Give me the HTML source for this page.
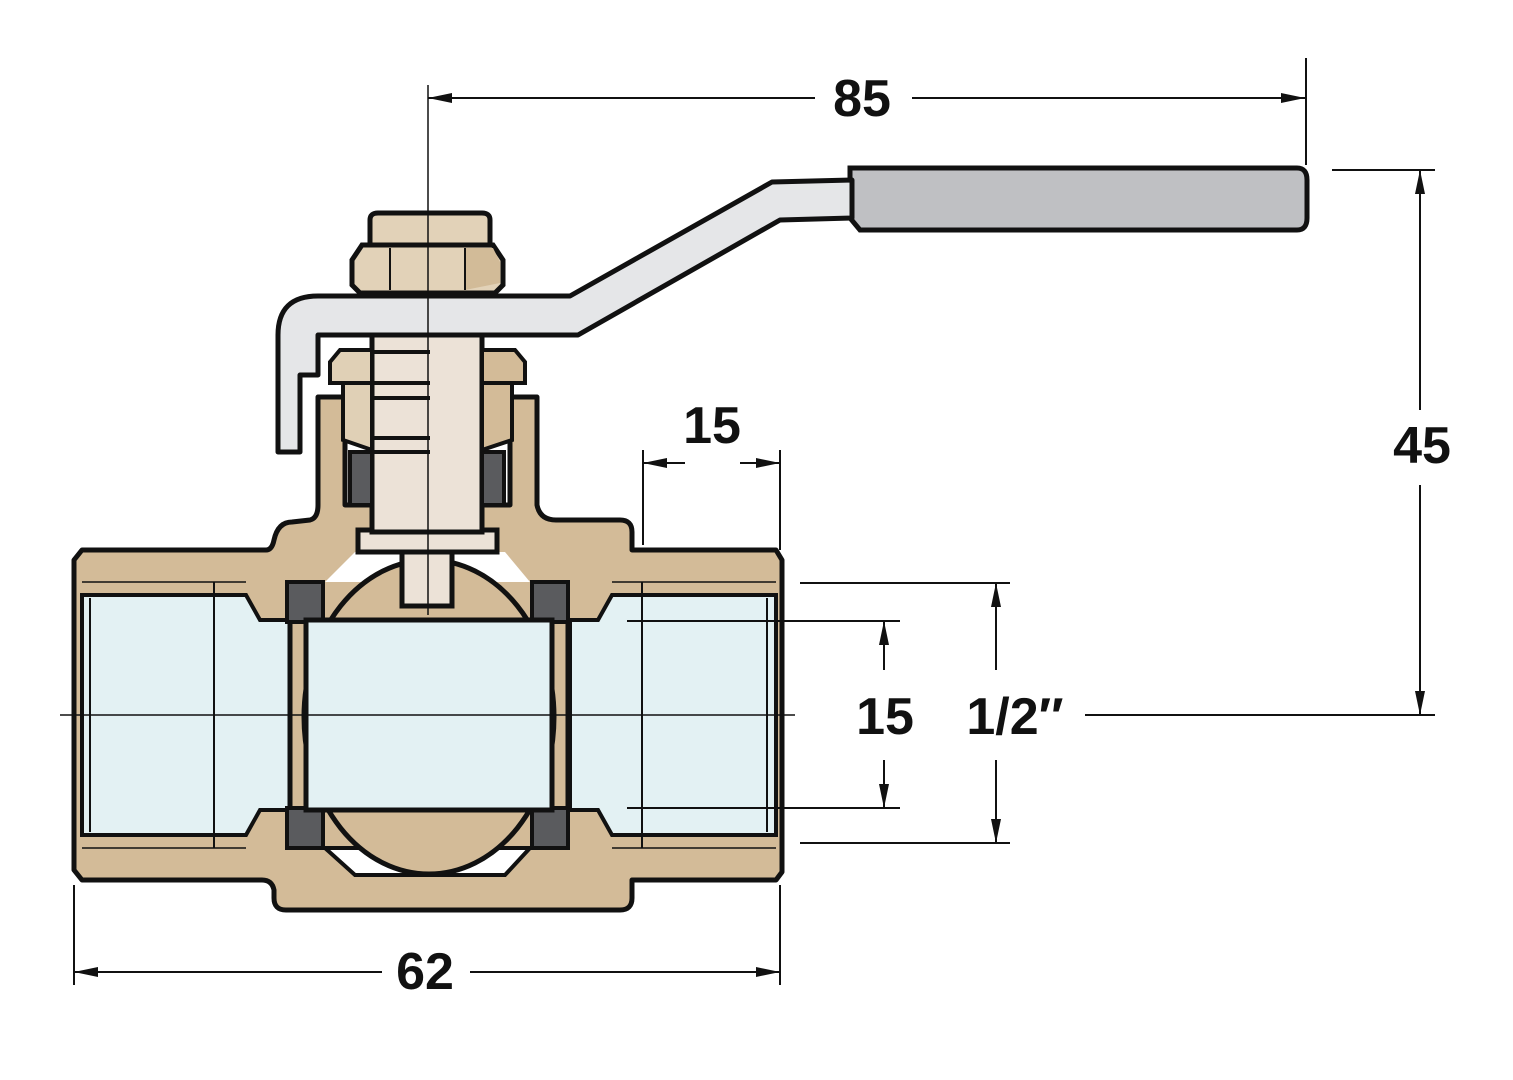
<!DOCTYPE html>
<html><head><meta charset="utf-8"><style>
html,body{margin:0;padding:0;background:#fff;}
svg{display:block;}
text{font-family:"Liberation Sans Narrow","Liberation Sans",sans-serif;font-size:52px;font-weight:bold;fill:#111;text-anchor:middle;}
</style></head><body>
<svg width="1513" height="1080" viewBox="0 0 1513 1080" xmlns="http://www.w3.org/2000/svg">
<defs>
<marker id="b" viewBox="0 0 24 10" refX="24" refY="5" markerWidth="24" markerHeight="10" markerUnits="userSpaceOnUse" orient="auto-start-reverse"><path d="M0,0 L24,5 L0,10 z" fill="#111"/></marker>
</defs>

<path d="M850,168 L1297,168 Q1307,168 1307,180 L1307,218 Q1307,230 1297,230 L860,230 L850,218 Z" fill="#bfc0c3" stroke="#111" stroke-width="5"/>
<path d="M278,452 L278,335 Q278,296 318,296 L570,296 L772,182 L852,180 L852,218 L780,220 L578,335 L318,335 L318,375 L300,375 L300,452 Z" fill="#e5e6e8" stroke="#111" stroke-width="5" stroke-linejoin="round"/>

<path d="M82,550 L266,550 Q272,550 274,540 Q278,522 292,522 L310,520 Q318,518 318,505 L318,397 L345,397 L345,505 L510,505 L510,397 L537,397 L537,505 Q540,520 556,520 L620,520 Q632,520 632,532 L632,550 L776,550 L782,560 L782,872 L776,880 L632,880 L632,898 Q632,910 620,910 L286,910 Q274,910 274,898 L274,890 Q272,880 262,880 L82,880 L74,870 L74,560 Z" fill="#d3bb98" stroke="#111" stroke-width="5" stroke-linejoin="round"/>

<path d="M82,595 L246,595 L260,620 L290,620 L290,810 L260,810 L246,835 L82,835 Z" fill="#e3f1f3" stroke="#111" stroke-width="4"/>
<path d="M776,595 L612,595 L598,620 L570,620 L570,810 L598,810 L612,835 L776,835 Z" fill="#e3f1f3" stroke="#111" stroke-width="4"/>
<line x1="90" y1="598" x2="90" y2="832" stroke="#111" stroke-width="2"/>
<line x1="214" y1="582" x2="214" y2="848" stroke="#111" stroke-width="2"/>
<line x1="642" y1="582" x2="642" y2="848" stroke="#111" stroke-width="2"/>
<line x1="767" y1="598" x2="767" y2="832" stroke="#111" stroke-width="2"/>
<line x1="82" y1="582" x2="246" y2="582" stroke="#111" stroke-width="1.5"/>
<line x1="82" y1="848" x2="246" y2="848" stroke="#111" stroke-width="1.5"/>
<line x1="612" y1="582" x2="776" y2="582" stroke="#111" stroke-width="1.5"/>
<line x1="612" y1="848" x2="776" y2="848" stroke="#111" stroke-width="1.5"/>

<path d="M355,552 L505,552 L530,582 L325,582 Z" fill="#fff"/>
<path d="M325,848 L530,848 L505,875 L355,875 Z" fill="#fff" stroke="#111" stroke-width="4"/>

<rect x="287" y="582" width="36" height="40" fill="#5a5b5e" stroke="#111" stroke-width="4"/>
<rect x="287" y="808" width="36" height="40" fill="#5a5b5e" stroke="#111" stroke-width="4"/>
<rect x="532" y="582" width="36" height="40" fill="#5a5b5e" stroke="#111" stroke-width="4"/>
<rect x="532" y="808" width="36" height="40" fill="#5a5b5e" stroke="#111" stroke-width="4"/>
<line x1="290" y1="620" x2="290" y2="810" stroke="#111" stroke-width="5"/>
<line x1="568" y1="620" x2="568" y2="810" stroke="#111" stroke-width="5"/>

<ellipse cx="429" cy="717" rx="125" ry="157" fill="#d3bb98" stroke="#111" stroke-width="5"/>
<rect x="306" y="620" width="246" height="190" fill="#e3f1f3" stroke="#111" stroke-width="5"/>

<rect x="402" y="548" width="50" height="58" fill="#ece2d7" stroke="#111" stroke-width="5"/>
<rect x="358" y="530" width="139" height="22" fill="#ece2d7" stroke="#111" stroke-width="5"/>
<rect x="372" y="335" width="110" height="197" fill="#ece2d7" stroke="#111" stroke-width="5"/>

<rect x="350" y="452" width="22" height="53" fill="#5a5b5e" stroke="#111" stroke-width="4"/>
<rect x="482" y="452" width="22" height="53" fill="#5a5b5e" stroke="#111" stroke-width="4"/>
<path d="M343,383 L372,383 L372,450 L343,440 Z" fill="#e0d0b6" stroke="#111" stroke-width="4"/>
<path d="M482,383 L512,383 L512,440 L482,450 Z" fill="#d3bb98" stroke="#111" stroke-width="4"/>
<path d="M330,362 L340,350 L372,350 L372,383 L330,383 Z" fill="#e0d0b6" stroke="#111" stroke-width="4"/>
<path d="M482,350 L515,350 L525,362 L525,383 L482,383 Z" fill="#d3bb98" stroke="#111" stroke-width="4"/>
<g stroke="#111" stroke-width="4">
<line x1="372" y1="352" x2="430" y2="352"/><line x1="372" y1="383" x2="430" y2="383"/>
<line x1="372" y1="398" x2="430" y2="398"/><line x1="372" y1="438" x2="430" y2="438"/>
<line x1="372" y1="452" x2="430" y2="452"/>
</g>

<path d="M370,220 Q370,213 378,213 L482,213 Q490,213 490,220 L490,245 L370,245 Z" fill="#e2d2b8" stroke="#111" stroke-width="5"/>
<path d="M362,245 L493,245 L503,260 L503,285 L495,293 L360,293 L352,285 L352,260 Z" fill="#e2d2b8" stroke="#111" stroke-width="5"/>
<path d="M465,248 L493,248 L500,262 L500,283 L465,290 Z" fill="#d2bb98"/>
<path d="M390,248 L390,290 M465,248 L465,290" stroke="#111" stroke-width="2" fill="none"/>

<line x1="428" y1="85" x2="428" y2="615" stroke="#111" stroke-width="1.5"/>
<line x1="60" y1="715" x2="795" y2="715" stroke="#111" stroke-width="1.5"/>

<g stroke="#111" stroke-width="2" fill="none">
<line x1="428" y1="98" x2="815" y2="98" marker-start="url(#b)"/>
<line x1="912" y1="98" x2="1305" y2="98" marker-end="url(#b)"/>
<line x1="1306" y1="58" x2="1306" y2="165"/>
<line x1="1332" y1="170" x2="1435" y2="170"/>
<line x1="1085" y1="715" x2="1435" y2="715"/>
<line x1="1420" y1="170" x2="1420" y2="410" marker-start="url(#b)"/>
<line x1="1420" y1="485" x2="1420" y2="715" marker-end="url(#b)"/>
<line x1="643" y1="450" x2="643" y2="545"/>
<line x1="780" y1="450" x2="780" y2="550"/>
<line x1="643" y1="463" x2="685" y2="463" marker-start="url(#b)"/>
<line x1="740" y1="463" x2="780" y2="463" marker-end="url(#b)"/>
<line x1="627" y1="621" x2="900" y2="621"/>
<line x1="627" y1="808" x2="900" y2="808"/>
<line x1="884" y1="621" x2="884" y2="670" marker-start="url(#b)"/>
<line x1="884" y1="760" x2="884" y2="808" marker-end="url(#b)"/>
<line x1="800" y1="583" x2="1010" y2="583"/>
<line x1="800" y1="843" x2="1010" y2="843"/>
<line x1="996" y1="583" x2="996" y2="670" marker-start="url(#b)"/>
<line x1="996" y1="760" x2="996" y2="843" marker-end="url(#b)"/>
<line x1="74" y1="885" x2="74" y2="985"/>
<line x1="780" y1="885" x2="780" y2="985"/>
<line x1="74" y1="972" x2="382" y2="972" marker-start="url(#b)"/>
<line x1="470" y1="972" x2="780" y2="972" marker-end="url(#b)"/>
</g>
<text x="862" y="116">85</text>
<text x="1422" y="463">45</text>
<text x="712" y="443">15</text>
<text x="885" y="734">15</text>
<text x="1015" y="734">1/2″</text>
<text x="425" y="989">62</text>
</svg>
</body></html>
